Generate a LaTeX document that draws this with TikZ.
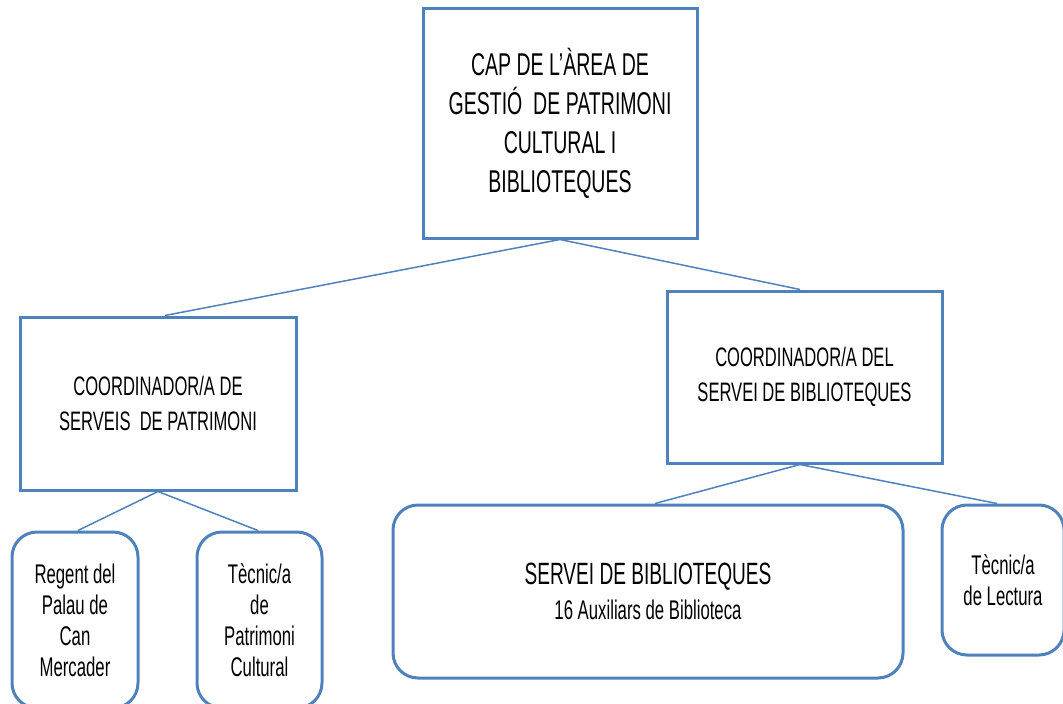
\documentclass[tikz,border=0pt]{standalone}
\usepackage{fontspec}
\setmainfont{Liberation Sans}[FakeStretch=0.62]
\definecolor{boxblue}{HTML}{4F81BD}
\begin{document}
\begin{tikzpicture}[x=1pt,y=-1pt,
  box/.style={draw=boxblue,line width=3pt,align=center,inner sep=0pt,text=black},
  rbox/.style={box,rounded corners=25pt},
  link/.style={draw=boxblue,line width=1.5pt},
  bigtxt/.style={font=\fontsize{31.5}{39}\selectfont},
  midtxt/.style={font=\fontsize{26.7}{35}\selectfont},
  smalltxt/.style={font=\fontsize{27}{31}\selectfont}]
\useasboundingbox (0,0) rectangle (1063,704);
\node[box,bigtxt,minimum width=274pt,minimum height=230pt] (cap) at (560,123)
  {CAP DE L’ÀREA DE\\GESTIÓ~ DE PATRIMONI\\CULTURAL I\\BIBLIOTEQUES};
\node[box,midtxt,minimum width=276pt,minimum height=173pt] (patr) at (158,403.5)
  {COORDINADOR/A DE\\SERVEIS~ DE PATRIMONI};
\node[box,midtxt,minimum width=275pt,minimum height=172pt] (bibl) at (804.5,377)
  {COORDINADOR/A DEL\\SERVEI DE BIBLIOTEQUES};
\node[rbox,smalltxt,minimum width=126pt,minimum height=176pt] (regent) at (75,620)
  {Regent del\\Palau de\\Can\\Mercader};
\node[rbox,smalltxt,minimum width=125pt,minimum height=176pt] (tecpat) at (259.5,620)
  {Tècnic/a\\de\\Patrimoni\\Cultural};
\node[rbox,font=\fontsize{27}{35}\selectfont,minimum width=510pt,minimum height=173pt] (servei) at (648,591.5)
  {{\fontsize{30.8}{35}\selectfont SERVEI DE BIBLIOTEQUES}\\16 Auxiliars de Biblioteca};
\node[rbox,smalltxt,minimum width=122pt,minimum height=150pt] (teclec) at (1003,580)
  {Tècnic/a\\de Lectura};
\draw[link] (cap.south) -- ([xshift=7pt]patr.north);
\draw[link] (cap.south) -- ([xshift=-4.5pt]bibl.north);
\draw[link] (patr.south) -- ([xshift=3pt]regent.north);
\draw[link] (patr.south) -- ([xshift=-1.5pt]tecpat.north);
\draw[link] ([xshift=-4.5pt]bibl.south) -- ([xshift=7pt]servei.north);
\draw[link] ([xshift=-4.5pt]bibl.south) -- ([xshift=-6pt]teclec.north);
\end{tikzpicture}
\end{document}
